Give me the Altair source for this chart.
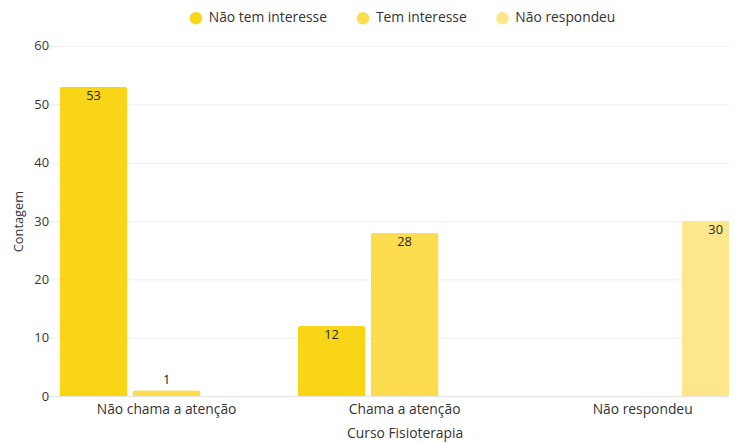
import altair as alt
import pandas as pd

groups = ["Não chama a atenção", "Chama a atenção", "Não respondeu"]
series = ["Não tem interesse", "Tem interesse", "Não respondeu"]
colors = ["#F8D517", "#FDDC50", "#FEE68A"]

group_col = ["Não chama a atenção", "Não chama a atenção", "Chama a atenção", "Chama a atenção", "Não respondeu"]
series_col = ["Não tem interesse", "Tem interesse", "Não tem interesse", "Tem interesse", "Não respondeu"]
values = [53, 1, 12, 28, 30]

df = pd.DataFrame({"grupo": group_col, "serie": series_col, "valor": values})

FONT = "Open Sans"

x_enc = alt.X(
    "grupo:N",
    sort=groups,
    scale=alt.Scale(domain=groups, range=[-10, 712], paddingInner=0, paddingOuter=0),
    axis=alt.Axis(
        title="Curso Fisioterapia",
        labelAngle=0,
        ticks=False,
        domain=True,
        domainColor="#E4E4E4",
        labelPadding=7,
        titlePadding=10,
        labelFontSize=14,
        titleFontSize=14,
        grid=False,
    ),
)
xoff_enc = alt.XOffset(
    "serie:N",
    sort=series,
    scale=alt.Scale(domain=series, paddingInner=0.0685, paddingOuter=0.164),
)
y_enc = alt.Y(
    "valor:Q",
    scale=alt.Scale(domain=[0, 60], nice=False),
    axis=alt.Axis(
        title="Contagem",
        values=[0, 10, 20, 30, 40, 50, 60],
        ticks=False,
        domain=False,
        gridColor="#EDEDED",
        labelPadding=9,
        titlePadding=8,
        labelFontSize=13,
        titleFontSize=13,
    ),
)

base = alt.Chart(df).encode(x=x_enc, xOffset=xoff_enc, y=y_enc)

bars = base.mark_bar(cornerRadiusTopLeft=3, cornerRadiusTopRight=3).encode(
    color=alt.Color(
        "serie:N",
        sort=series,
        scale=alt.Scale(domain=series, range=colors),
        legend=alt.Legend(
            title=None,
            orient="none",
            legendX=133,
            legendY=-35,
            direction="horizontal",
            symbolType="circle",
            symbolSize=160,
            symbolStrokeWidth=0,
            labelFontSize=14,
            labelColor="#333333",
            labelFont=FONT,
            columnPadding=29,
            labelOffset=6,
        ),
    )
)

labels_in = base.transform_filter("datum.valor >= 5").mark_text(
    baseline="top", dy=3, fontSize=13, color="#252423", font=FONT
).encode(text="valor:Q")

labels_out = base.transform_filter("datum.valor < 5").mark_text(
    baseline="bottom", dy=-3, fontSize=13, color="#252423", font=FONT
).encode(text="valor:Q")

chart = (
    alt.layer(bars, labels_in, labels_out)
    .properties(
        width=679,
        height=354,
        autosize=alt.AutoSizeParams(type="none"),
        padding={"left": 50, "top": 36, "right": 0, "bottom": 45},
    )
    .configure_view(stroke=None)
    .configure_axis(
        labelFont=FONT,
        titleFont=FONT,
        labelColor="#333333",
        titleColor="#333333",
        titleFontWeight="normal",
    )
)

chart.save("out.html", embed_options={"renderer": "svg", "actions": False})
